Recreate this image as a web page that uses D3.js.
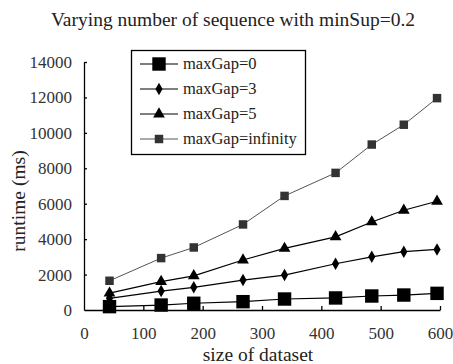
<!DOCTYPE html>
<html>
<head>
<meta charset="utf-8">
<script src="https://cdn.jsdelivr.net/npm/d3@7"></script>
<style>
  body { margin: 0; background: #fff; }
  svg, svg text { font-family: "Liberation Serif", "Times New Roman", serif; }
</style>
</head>
<body>
<div id="chart"></div>
<script>
// dataset sizes on the x axis
const sizes = [43, 130, 185, 268, 338, 424, 485, 539, 595];
// runtime (ms) per series
const gap0 = [190, 280, 380, 470, 620, 680, 790, 845, 940];
const gap3 = [660, 1070, 1280, 1690, 1970, 2610, 3000, 3290, 3420];
const gap5 = [950, 1600, 1930, 2820, 3475, 4130, 4970, 5630, 6140];
const gapInf = [1650, 2930, 3530, 4830, 6440, 7740, 9340, 10460, 11960];
const seriesNames = ["maxGap=0", "maxGap=3", "maxGap=5", "maxGap=infinity"];
const xTicks = [0, 100, 200, 300, 400, 500, 600];
const yTicks = [0, 2000, 4000, 6000, 8000, 10000, 12000, 14000];

const width = 453, height = 364;
const svg = d3.select("#chart").append("svg")
  .attr("width", width)
  .attr("height", height);

const x = d3.scaleLinear().domain([0, 600]).range([84, 440]);
const y = d3.scaleLinear().domain([0, 14000]).range([310, 62]);

// title
svg.append("text")
  .attr("x", 233).attr("y", 26)
  .attr("text-anchor", "middle")
  .attr("font-size", 19.5)
  .attr("fill", "#222")
  .text("Varying number of sequence with minSup=0.2");

// axes, ticks pointing inside
const xAxis = svg.append("g")
  .attr("transform", "translate(0," + y(0) + ")")
  .call(d3.axisBottom(x).tickValues(xTicks).tickFormat(d3.format("d"))
    .tickSizeInner(-4).tickSizeOuter(0).tickPadding(17));
const yAxis = svg.append("g")
  .attr("transform", "translate(" + x(0) + ",0)")
  .call(d3.axisLeft(y).tickValues(yTicks).tickFormat(d3.format("d"))
    .tickSizeInner(-3).tickSizeOuter(0).tickPadding(12));
[xAxis, yAxis].forEach(function(g) {
  g.attr("font-family", null).attr("font-size", 17);
  g.selectAll("text").attr("fill", "#333");
  g.select(".domain").attr("stroke", "#000").attr("stroke-width", 1.3);
  g.selectAll(".tick line").attr("stroke", "#000").attr("stroke-width", 1.3);
});
xAxis.selectAll(".tick").filter(function(d) { return d === 0; }).select("line").remove();
yAxis.selectAll(".tick").filter(function(d) { return d === 0; }).select("line").remove();

// axis titles
svg.append("text")
  .attr("x", 258).attr("y", 361)
  .attr("text-anchor", "middle")
  .attr("font-size", 19.5)
  .attr("fill", "#222")
  .text("size of dataset");
svg.append("text")
  .attr("transform", "translate(25,201) rotate(-90)")
  .attr("text-anchor", "middle")
  .attr("font-size", 19.5)
  .attr("fill", "#222")
  .text("runtime (ms)");

// marker shapes
const markers = [
  { shape: d3.symbolSquare, size: 180, fill: "#000", line: "#000" },
  { shape: d3.symbolDiamond, size: 45, fill: "#000", line: "#000" },
  { shape: d3.symbolTriangle, size: 60, fill: "#000", line: "#000" },
  { shape: d3.symbolSquare, size: 72, fill: "#333", line: "#555" },
];
const allSeries = [gap0, gap3, gap5, gapInf];

const line = d3.line()
  .x(function(d) { return x(d[0]); })
  .y(function(d) { return y(d[1]); });

// draw in reverse so maxGap=0 squares sit on top
for (let s = allSeries.length - 1; s >= 0; s--) {
  const pts = sizes.map(function(v, i) { return [v, allSeries[s][i]]; });
  const m = markers[s];
  svg.append("path")
    .datum(pts)
    .attr("fill", "none")
    .attr("stroke", m.line)
    .attr("stroke-width", s === 3 ? 1 : 1.2)
    .attr("d", line);
  svg.append("g").selectAll("path")
    .data(pts)
    .enter().append("path")
    .attr("transform", function(d) { return "translate(" + x(d[0]) + "," + y(d[1]) + ")"; })
    .attr("d", d3.symbol().type(m.shape).size(m.size))
    .attr("fill", m.fill);
}

// legend
const legend = svg.append("g");
legend.append("rect")
  .attr("x", 131.5).attr("y", 50.5)
  .attr("width", 174).attr("height", 104)
  .attr("fill", "#fff")
  .attr("stroke", "#000")
  .attr("stroke-width", 1.3);
seriesNames.forEach(function(name, i) {
  const ly = 64 + i * 25;
  const m = markers[i];
  legend.append("line")
    .attr("x1", 140).attr("x2", 178)
    .attr("y1", ly).attr("y2", ly)
    .attr("stroke", m.line).attr("stroke-width", 1.2);
  legend.append("path")
    .attr("transform", "translate(159," + ly + ")")
    .attr("d", d3.symbol().type(m.shape).size(m.size))
    .attr("fill", m.fill);
  legend.append("text")
    .attr("x", 183).attr("y", ly + 5)
    .attr("font-size", 16.5)
    .attr("fill", "#222")
    .text(name);
});
</script>
</body>
</html>
